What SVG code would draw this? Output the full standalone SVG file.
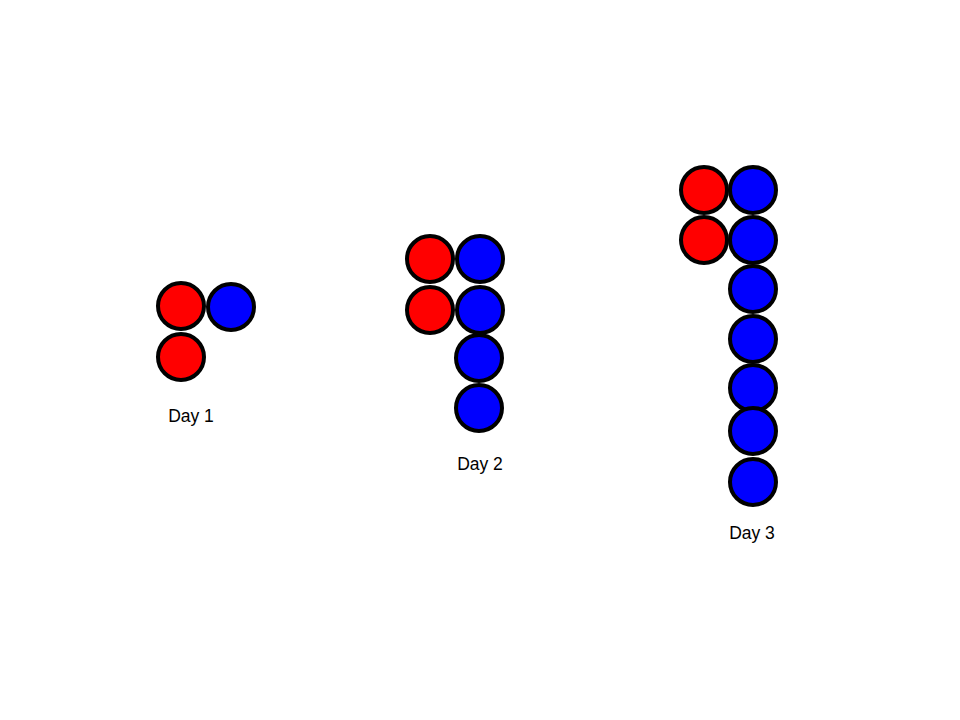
<svg xmlns="http://www.w3.org/2000/svg" width="960" height="720" viewBox="0 0 960 720">
<style>
.r{fill:#ff0000;stroke:#000;stroke-width:4}
.b{fill:#0000ff;stroke:#000;stroke-width:4}
.t{font-family:"Liberation Sans",Arial,sans-serif;font-size:17.5px;fill:#000;text-anchor:middle}
</style>
<rect width="960" height="720" fill="#fff"/>
<g id="day1">
<circle class="r" cx="181" cy="306" r="23"/>
<circle class="b" cx="231" cy="307" r="23"/>
<circle class="r" cx="181" cy="357" r="23"/>
<text class="t" x="191" y="422">Day 1</text>
</g>
<g id="day2">
<circle class="r" cx="430" cy="259" r="23"/>
<circle class="b" cx="480" cy="259" r="23"/>
<circle class="r" cx="430" cy="310" r="23"/>
<circle class="b" cx="480" cy="310" r="23"/>
<circle class="b" cx="479" cy="358" r="23"/>
<circle class="b" cx="479" cy="408" r="23"/>
<text class="t" x="480" y="470">Day 2</text>
</g>
<g id="day3">
<circle class="r" cx="704" cy="190" r="23"/>
<circle class="b" cx="753" cy="190" r="23"/>
<circle class="r" cx="704" cy="240" r="23"/>
<circle class="b" cx="753" cy="240" r="23"/>
<circle class="b" cx="753" cy="289" r="23"/>
<circle class="b" cx="753" cy="339" r="23"/>
<circle class="b" cx="753" cy="388" r="23"/>
<circle class="b" cx="753" cy="431" r="23"/>
<circle class="b" cx="753" cy="482" r="23"/>
<text class="t" x="752" y="539">Day 3</text>
</g>
</svg>
